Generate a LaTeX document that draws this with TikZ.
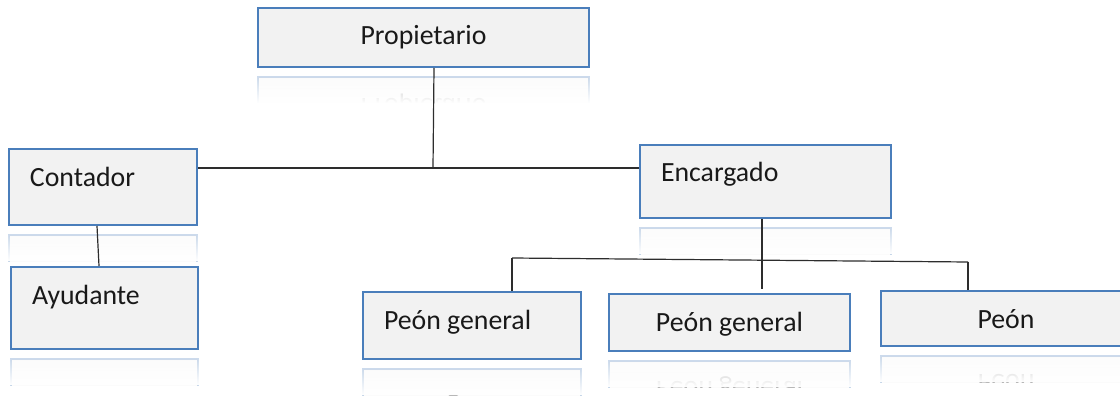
\documentclass[tikz,border=0pt]{standalone}
\usepackage{fontspec}
\setmainfont{Carlito}
\usetikzlibrary{fadings}
\definecolor{borde}{RGB}{74,126,187}
\definecolor{relleno}{RGB}{242,242,242}
\definecolor{linea}{RGB}{45,45,45}
\tikzset{
  caja/.style={draw=borde, fill=relleno, line width=2pt, inner ysep=0pt, text height=37pt,
    font=\fontsize{27.8}{33}\selectfont, text=black!90},
  izq/.style={align=flush left, inner xsep=21pt, text width=\ancho pt},
  centro/.style={align=center, inner xsep=0pt},
  conector/.style={draw=linea, line width=1.2pt},
}
% caja con su reflejo: nombre, x, y, ancho, alto, estilo, texto
\newcommand{\caja}[7]{%
  \pgfmathsetmacro{\prof}{#5-37}%
  \pgfmathsetmacro{\ancho}{#4-42}%
  \node[caja, #6, minimum width=#4pt, text depth=\prof pt, anchor=north west] (#1) at (#2,#3) {#7};
  \begin{scope}
    \clip (#2-6,#3+#5+8) rectangle (#2+#4+6,#3+#5+37);
    \begin{scope}[shift={(#2,#3+#5+10)}]
      \node[caja, #6, minimum width=#4pt, text depth=\prof pt, anchor=south west,
        yscale=-1, transform shape, opacity=.3] at (0,0) {#7};
    \end{scope}
    \fill[white, path fading=north] (#2-6,#3+#5+8) rectangle (#2+#4+6,#3+#5+37);
  \end{scope}
}
\begin{document}
\begin{tikzpicture}[x=1pt, y=-1pt]
  \useasboundingbox (0,0) rectangle (1120,401);

  % Nivel superior
  \caja{prop}{257}{7}{331}{59}{centro}{Propietario}

  % Segundo nivel
  \caja{cont}{8}{148}{188}{76}{izq}{Contador}
  \caja{enc}{639}{144}{251}{73}{izq}{Encargado}

  % Nivel inferior
  \caja{ayud}{10}{266}{187}{82}{izq}{Ayudante}
  \caja{peon1}{362}{291}{218}{67}{izq}{Peón general}
  \caja{peon2}{608}{293}{241}{57}{centro}{Peón general}
  \caja{peon3}{880}{290}{250}{55}{centro}{Peón}

  % Conexiones
  \coordinate (u) at (433,168);
  \coordinate (b1) at (512,258);
  \coordinate (b2) at (762,260);
  \coordinate (b3) at (968,262);
  \draw[conector] ([xshift=10.5pt]prop.south) -- (u);
  \draw[conector] (cont.east |- u) -- (enc.west |- u);
  \draw[conector] ([xshift=-6pt]cont.south) -- ([xshift=-5.5pt]ayud.north);
  \draw[conector] (b1) -- (b3);
  \draw[conector] (enc.south -| b2) -- (b2);
  \draw[conector] (b1) -- (b1 |- peon1.north);
  \draw[conector] (b2) -- ([yshift=4pt]b2 |- peon2.north);
  \draw[conector] (b3) -- (b3 |- peon3.north);
\end{tikzpicture}
\end{document}
